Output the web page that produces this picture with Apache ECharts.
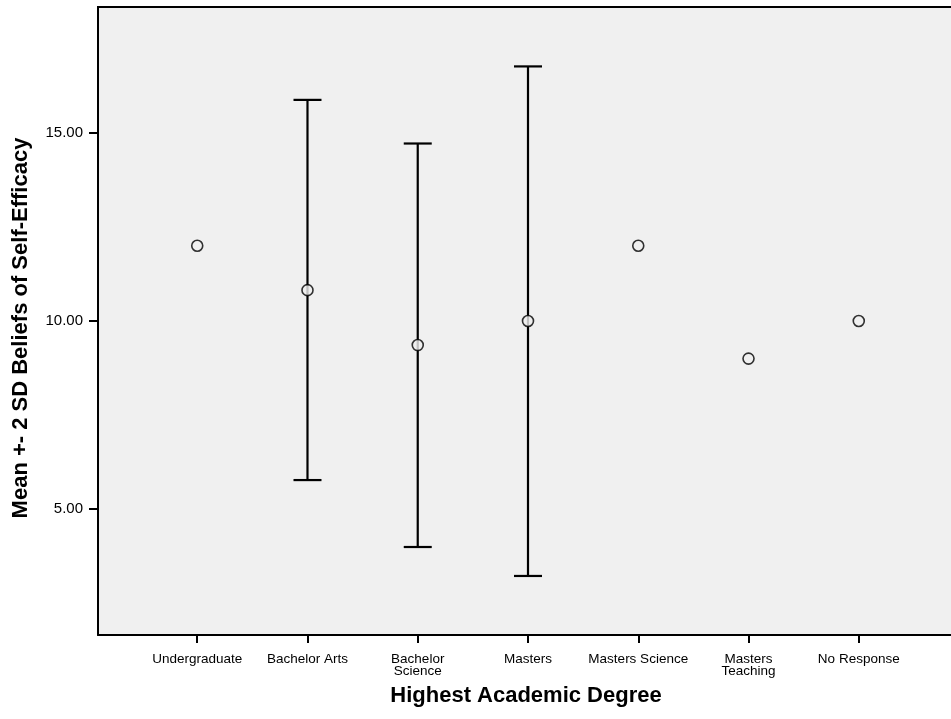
<!DOCTYPE html>
<html>
<head>
<meta charset="utf-8">
<script src="https://cdn.jsdelivr.net/npm/echarts@6/dist/echarts.min.js"></script>
<style>
  html, body { margin: 0; padding: 0; background: #ffffff; }
  #chart { width: 951px; height: 719px; }
</style>
</head>
<body>
<div id="chart"></div>
<script>
// Self-efficacy by highest academic degree: mean with ±2 SD bars
const categories = ['Undergraduate', 'Bachelor Arts', 'Bachelor\nScience', 'Masters',
                    'Masters Science', 'Masters\nTeaching', 'No Response'];
const means = [12.0, 10.82, 9.36, 10.0, 12.0, 9.0, 10.0];
const lowerBounds = [null, 5.77, 3.99, 3.22, null, null, null];
const upperBounds = [null, 15.88, 14.72, 16.77, null, null, null];
const yTicks = [5, 10, 15];
const xTitle = 'Highest Academic Degree';
const yTitle = 'Mean +- 2 SD Beliefs of Self-Efficacy';

const FONT = '"Liberation Sans", Arial, Helvetica, sans-serif';

const catIdx = categories.map((_, i) => i);
const barData = catIdx
  .filter(i => lowerBounds[i] !== null)
  .map(i => [i, lowerBounds[i], upperBounds[i]]);
const pointData = catIdx.map(i => [i, means[i]]);

const chart = echarts.init(document.getElementById('chart'), null, { renderer: 'canvas' });

chart.setOption({
  animation: false,
  backgroundColor: '#ffffff',
  grid: {
    left: 98, top: 7, width: 860, height: 628,
    outerBoundsMode: 'none',
    show: true, backgroundColor: '#f0f0f0', borderWidth: 0
  },
  xAxis: {
    type: 'value',
    min: -0.9, max: 6.9,
    splitLine: { show: false },
    axisLine: { show: true, onZero: false, lineStyle: { color: '#000', width: 2 } },
    axisTick: { show: true, length: 8, customValues: catIdx, lineStyle: { color: '#000', width: 2 } },
    axisLabel: {
      customValues: catIdx,
      formatter: v => categories[Math.round(v)] || '',
      fontFamily: FONT, fontSize: 13.5, color: '#000', margin: 18, lineHeight: 12
    }
  },
  yAxis: {
    type: 'value',
    min: 1.65, max: 18.35,
    splitLine: { show: false },
    axisLine: { show: true, onZero: false, lineStyle: { color: '#000', width: 2 } },
    axisTick: { show: true, length: 9, customValues: yTicks, lineStyle: { color: '#000', width: 2 } },
    axisLabel: {
      customValues: yTicks,
      formatter: v => v.toFixed(2),
      fontFamily: FONT, fontSize: 15, color: '#000', margin: 15
    }
  },
  graphic: [
    {
      // top frame line of the plot panel
      type: 'line', z: 10,
      shape: { x1: 97, y1: 7, x2: 951, y2: 7 },
      style: { stroke: '#000', lineWidth: 2 }
    },
    {
      type: 'text', x: 526, y: 696, z: 10,
      style: {
        text: xTitle, fill: '#000', font: 'bold 22px ' + FONT,
        textAlign: 'center', textVerticalAlign: 'middle'
      }
    },
    {
      type: 'text', x: 21, y: 328, rotation: Math.PI / 2, z: 10,
      style: {
        text: yTitle, fill: '#000', font: 'bold 22px ' + FONT,
        textAlign: 'center', textVerticalAlign: 'middle'
      }
    }
  ],
  series: [
    {
      type: 'custom',
      data: barData,
      renderItem: (params, api) => {
        const x = api.value(0);
        const lo = api.coord([x, api.value(1)]);
        const hi = api.coord([x, api.value(2)]);
        const half = 14;
        const style = { stroke: '#000', lineWidth: 2.2 };
        return {
          type: 'group',
          children: [
            { type: 'line', shape: { x1: lo[0], y1: lo[1], x2: hi[0], y2: hi[1] }, style },
            { type: 'line', shape: { x1: lo[0] - half, y1: lo[1], x2: lo[0] + half, y2: lo[1] }, style },
            { type: 'line', shape: { x1: hi[0] - half, y1: hi[1], x2: hi[0] + half, y2: hi[1] }, style }
          ]
        };
      },
      z: 2
    },
    {
      type: 'scatter',
      data: pointData,
      symbol: 'circle',
      symbolSize: 11,
      itemStyle: { color: '#f0f0f0', borderColor: '#000', borderWidth: 1.6 },
      z: 3
    }
  ]
});
</script>
</body>
</html>
